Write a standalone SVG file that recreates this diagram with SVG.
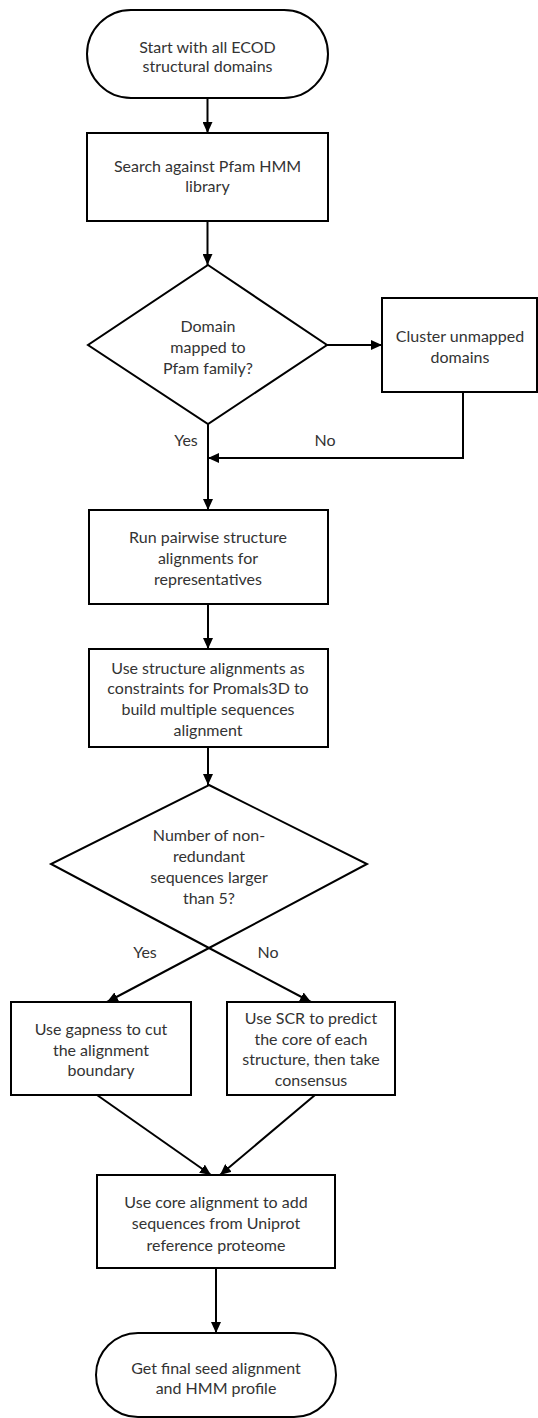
<svg xmlns="http://www.w3.org/2000/svg" width="538" height="1418" viewBox="0 0 538 1418">
<defs>
<marker id="ah" markerUnits="userSpaceOnUse" markerWidth="12" markerHeight="10" refX="11" refY="5" orient="auto">
<path d="M0,0 L11,5 L0,10 Z" fill="#000"/>
</marker>
<style>
.s{fill:#fff;stroke:#000;stroke-width:2}
.t{font-family:Lato,"Liberation Sans",sans-serif;font-size:16px;fill:#333;text-anchor:middle}
.c{fill:none;stroke:#000;stroke-width:2}
</style>
</defs>
<rect width="538" height="1418" fill="#fff"/>
<g id="connectors">
<line class="c" x1="207.5" y1="98" x2="207.5" y2="133" marker-end="url(#ah)"/>
<line class="c" x1="207.5" y1="221" x2="207.5" y2="265" marker-end="url(#ah)"/>
<line class="c" x1="327" y1="345" x2="382" y2="345" marker-end="url(#ah)"/>
<polyline class="c" points="463,392 463,458 208,458" marker-end="url(#ah)"/>
<line class="c" x1="208" y1="424" x2="208" y2="510" marker-end="url(#ah)"/>
<line class="c" x1="208" y1="604" x2="208" y2="649" marker-end="url(#ah)"/>
<line class="c" x1="208" y1="747" x2="208" y2="785" marker-end="url(#ah)"/>
<line class="c" x1="97" y1="1095" x2="211" y2="1175" marker-end="url(#ah)"/>
<line class="c" x1="315" y1="1095" x2="220" y2="1175" marker-end="url(#ah)"/>
<line class="c" x1="216" y1="1268" x2="216" y2="1333" marker-end="url(#ah)"/>
<text class="t" x="186" y="446">Yes</text>
<text class="t" x="325" y="446">No</text>
<text class="t" x="145" y="958">Yes</text>
<text class="t" x="268" y="958">No</text>
</g>
<g id="start">
<rect class="s" x="87" y="10" width="241" height="88" rx="44" ry="44"/>
<text class="t" x="207.5" y="53">Start with all ECOD</text>
<text class="t" x="207.5" y="72">structural domains</text>
</g>
<g id="search">
<rect class="s" x="87" y="133" width="241" height="88"/>
<text class="t" x="207.5" y="172">Search against Pfam HMM</text>
<text class="t" x="207.5" y="192">library</text>
</g>
<g id="mapped">
<polygon class="s" points="208,265 327,345 208,424 88,345"/>
<text class="t" x="208" y="332">Domain</text>
<text class="t" x="208" y="353">mapped to</text>
<text class="t" x="208" y="374">Pfam family?</text>
</g>
<g id="cluster">
<rect class="s" x="382" y="298" width="155" height="94"/>
<text class="t" x="460" y="342">Cluster unmapped</text>
<text class="t" x="460" y="363">domains</text>
</g>
<g id="pairwise">
<rect class="s" x="89" y="510" width="239" height="94"/>
<text class="t" x="208" y="543">Run pairwise structure</text>
<text class="t" x="208" y="564">alignments for</text>
<text class="t" x="208" y="585">representatives</text>
</g>
<g id="promals">
<rect class="s" x="89" y="649" width="239" height="98"/>
<text class="t" x="208" y="674">Use structure alignments as</text>
<text class="t" x="208" y="694">constraints for Promals3D to</text>
<text class="t" x="208" y="715">build multiple sequences</text>
<text class="t" x="208" y="736">alignment</text>
</g>
<g id="number">
<polygon class="s" points="209,785 367,864 209,948 51,864"/>
<text class="t" x="209" y="841">Number of non-</text>
<text class="t" x="209" y="862">redundant</text>
<text class="t" x="209" y="883">sequences larger</text>
<text class="t" x="209" y="904">than 5?</text>
</g>
<g id="number-branches">
<line class="c" x1="209" y1="948" x2="311" y2="1002" marker-end="url(#ah)"/>
<line class="c" x1="209" y1="948" x2="107" y2="1002" marker-end="url(#ah)"/>
</g>
<g id="gapness">
<rect class="s" x="11" y="1002" width="180" height="93"/>
<text class="t" x="101" y="1035">Use gapness to cut</text>
<text class="t" x="101" y="1056">the alignment</text>
<text class="t" x="101" y="1076">boundary</text>
</g>
<g id="scr">
<rect class="s" x="227" y="1002" width="168" height="93"/>
<text class="t" x="311" y="1024">Use SCR to predict</text>
<text class="t" x="311" y="1045">the core of each</text>
<text class="t" x="311" y="1065">structure, then take</text>
<text class="t" x="311" y="1086">consensus</text>
</g>
<g id="core">
<rect class="s" x="97" y="1175" width="238" height="93"/>
<text class="t" x="216" y="1208">Use core alignment to add</text>
<text class="t" x="216" y="1229">sequences from Uniprot</text>
<text class="t" x="216" y="1251">reference proteome</text>
</g>
<g id="final">
<rect class="s" x="96" y="1333" width="240" height="84" rx="42" ry="42"/>
<text class="t" x="216" y="1374">Get final seed alignment</text>
<text class="t" x="216" y="1394">and HMM profile</text>
</g>
</svg>
